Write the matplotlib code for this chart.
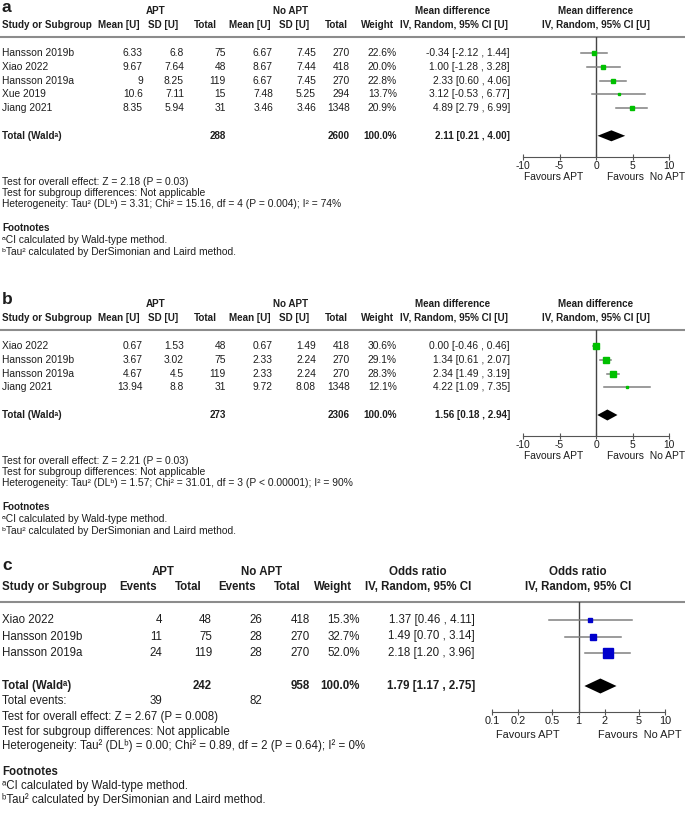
import matplotlib.pyplot as plt

plt.rcParams['font.family'] = ['Liberation Sans', 'DejaVu Sans']
plt.rcParams['axes.unicode_minus'] = False

# ---- panel a : mean difference ----
studies_a = ['Hansson 2019b', 'Xiao 2022', 'Hansson 2019a', 'Xue 2019', 'Jiang 2021']
apt_mean_a = [6.33, 9.67, 9, 10.6, 8.35]
apt_sd_a = [6.8, 7.64, 8.25, 7.11, 5.94]
apt_n_a = [75, 48, 119, 15, 31]
ctl_mean_a = [6.67, 8.67, 6.67, 7.48, 3.46]
ctl_sd_a = [7.45, 7.44, 7.45, 5.25, 3.46]
ctl_n_a = [270, 418, 270, 294, 1348]
weight_a = [22.6, 20.0, 22.8, 13.7, 20.9]
md_a = [-0.34, 1.00, 2.33, 3.12, 4.89]
lo_a = [-2.12, -1.28, 0.60, -0.53, 2.79]
hi_a = [1.44, 3.28, 4.06, 6.77, 6.99]
total_a = [288, 2600]
pooled_a = [2.11, 0.21, 4.00]
tests_a = ['Test for overall effect: Z = 2.18 (P = 0.03)',
           'Test for subgroup differences: Not applicable',
           'Heterogeneity: Tau\u00b2 (DL\u1d47) = 3.31; Chi\u00b2 = 15.16, df = 4 (P = 0.004); I\u00b2 = 74%']

# ---- panel b : mean difference ----
studies_b = ['Xiao 2022', 'Hansson 2019b', 'Hansson 2019a', 'Jiang 2021']
apt_mean_b = [0.67, 3.67, 4.67, 13.94]
apt_sd_b = [1.53, 3.02, 4.5, 8.8]
apt_n_b = [48, 75, 119, 31]
ctl_mean_b = [0.67, 2.33, 2.33, 9.72]
ctl_sd_b = [1.49, 2.24, 2.24, 8.08]
ctl_n_b = [418, 270, 270, 1348]
weight_b = [30.6, 29.1, 28.3, 12.1]
md_b = [0.00, 1.34, 2.34, 4.22]
lo_b = [-0.46, 0.61, 1.49, 1.09]
hi_b = [0.46, 2.07, 3.19, 7.35]
total_b = [273, 2306]
pooled_b = [1.56, 0.18, 2.94]
tests_b = ['Test for overall effect: Z = 2.21 (P = 0.03)',
           'Test for subgroup differences: Not applicable',
           'Heterogeneity: Tau\u00b2 (DL\u1d47) = 1.57; Chi\u00b2 = 31.01, df = 3 (P < 0.00001); I\u00b2 = 90%']

# ---- panel c : odds ratio ----
studies_c = ['Xiao 2022', 'Hansson 2019b', 'Hansson 2019a']
apt_ev_c = [4, 11, 24]
apt_n_c = [48, 75, 119]
ctl_ev_c = [26, 28, 28]
ctl_n_c = [418, 270, 270]
weight_c = [15.3, 32.7, 52.0]
or_c = [1.37, 1.49, 2.18]
lo_c = [0.46, 0.70, 1.20]
hi_c = [4.11, 3.14, 3.96]
total_c = [242, 958]
events_c = [39, 82]
pooled_c = [1.79, 1.17, 2.75]
tests_c = ['Test for overall effect: Z = 2.67 (P = 0.008)',
           'Test for subgroup differences: Not applicable',
           'Heterogeneity: Tau\u00b2 (DL\u1d47) = 0.00; Chi\u00b2 = 0.89, df = 2 (P = 0.64); I\u00b2 = 0%']

footnotes = ['\u1d43CI calculated by Wald-type method.',
             '\u1d47Tau\u00b2 calculated by DerSimonian and Laird method.']

W, H = 685, 825
TXT = '#1e1e1e'
GRID = '#8c8c8c'
AXC = '#555555'

fig = plt.figure(figsize=(W / 100, H / 100), dpi=100)
bg = fig.add_axes([0, 0, 1, 1])
bg.set_xlim(0, W)
bg.set_ylim(H, 0)
bg.axis('off')


def txt(x, y, s, ha='left', bold=False, size=7.4):
    bg.text(x, y, s, ha=ha, va='center', fontsize=size, color=TXT,
            fontweight='bold' if bold else 'normal')


def ci_str(e, l, h):
    return '%.2f [%.2f , %.2f]' % (e, l, h)


def forest_axes(x0, x1, ytop, ybot, row0, step, size):
    ax = fig.add_axes([x0 / W, 1 - ybot / H, (x1 - x0) / W, (ybot - ytop) / H])
    ax.set_ylim((ybot - row0) / step, (ytop - row0) / step)
    ax.patch.set_alpha(0)
    for s in ['top', 'left', 'right']:
        ax.spines[s].set_visible(False)
    ax.spines['bottom'].set_color(AXC)
    ax.tick_params(axis='y', left=False, labelleft=False)
    ax.tick_params(axis='x', which='both', direction='inout', length=4, color=AXC,
                   labelsize=size, pad=1, labelcolor=TXT)
    return ax


def marker_px(w):
    return 0.17 * w + 0.5


def panel_md(letter, yline, studies, m1, s1, n1, m2, s2, n2, wts, md, lo, hi, tot, pooled, tests):
    fs = 7.4
    hs = 7.1
    row0 = yline + 16
    step = 13.8
    txt(2, yline - 30, letter, bold=True, size=12.5)
    txt(156, yline - 26, 'APT', 'center', True, hs)
    txt(291, yline - 26, 'No APT', 'center', True, hs)
    txt(453, yline - 26, 'Mean difference', 'center', True, hs)
    txt(596, yline - 26, 'Mean difference', 'center', True, hs)
    hy = yline - 12
    txt(2, hy, 'Study or Subgroup', 'left', True, hs)
    for x, s in [(119, 'Mean [U]'), (163, 'SD [U]'), (205, 'Total'), (250, 'Mean [U]'),
                 (294, 'SD [U]'), (336, 'Total'), (377, 'Weight'),
                 (454, 'IV, Random, 95% CI [U]'), (596, 'IV, Random, 95% CI [U]')]:
        txt(x, hy, s, 'center', True, hs)
    bg.plot([0, W], [yline, yline], color=GRID, lw=1.5)

    for i, name in enumerate(studies):
        y = row0 + i * step
        txt(2, y, name, size=fs)
        for x, v in [(143, m1[i]), (184, s1[i]), (226, n1[i]), (273, m2[i]),
                     (316, s2[i]), (350, n2[i])]:
            txt(x, y, '%g' % v, 'right', size=fs)
        txt(397, y, '%.1f%%' % wts[i], 'right', size=fs)
        txt(510, y, ci_str(md[i], lo[i], hi[i]), 'right', size=fs)

    ytot = row0 + (len(studies) + 1) * step
    txt(2, ytot, 'Total (Wald\u1d43)', bold=True, size=hs)
    txt(226, ytot, str(tot[0]), 'right', True, hs)
    txt(350, ytot, str(tot[1]), 'right', True, hs)
    txt(397, ytot, '100.0%', 'right', True, hs)
    txt(510, ytot, ci_str(*pooled), 'right', True, hs)

    yax = ytot + 21
    ax = forest_axes(523, 669, yline, yax, row0, step, fs)
    ax.set_xlim(-10, 10)
    ax.set_xticks([-10, -5, 0, 5, 10])
    ax.axvline(0, color='#444444', lw=1)
    for i in range(len(studies)):
        ax.plot([lo[i], hi[i]], [i, i], color='#808080', lw=1.1, clip_on=False)
        ax.plot(md[i], i, 's', color='#00c000', mec='#00c000',
                ms=marker_px(wts[i]) * 0.72, clip_on=False)
    r = len(studies) + 1
    hd = 5.5 / step
    ax.fill([pooled[1], pooled[0], pooled[2], pooled[0]], [r, r - hd, r, r + hd],
            color='black', lw=0)
    txt(554, yax + 20, 'Favours APT', 'center', size=fs)
    txt(646, yax + 20, 'Favours  No APT', 'center', size=fs)

    for k, s in enumerate(tests):
        txt(2, ytot + 46 + 11 * k, s, size=fs)
    txt(2, ytot + 92, 'Footnotes', bold=True, size=hs)
    txt(2, ytot + 104, footnotes[0], size=fs)
    txt(2, ytot + 116, footnotes[1], size=fs)


panel_md('a', 37, studies_a, apt_mean_a, apt_sd_a, apt_n_a, ctl_mean_a, ctl_sd_a, ctl_n_a,
         weight_a, md_a, lo_a, hi_a, total_a, pooled_a, tests_a)
panel_md('b', 330, studies_b, apt_mean_b, apt_sd_b, apt_n_b, ctl_mean_b, ctl_sd_b, ctl_n_b,
         weight_b, md_b, lo_b, hi_b, total_b, pooled_b, tests_b)

# ---- panel c ----
fs = 8.3
yline = 602
row0 = 620
step = 16.5
txt(2, 566, 'c', bold=True, size=12.5)
txt(163, 572, 'APT', 'center', True, fs)
txt(262, 572, 'No APT', 'center', True, fs)
txt(418, 572, 'Odds ratio', 'center', True, fs)
txt(578, 572, 'Odds ratio', 'center', True, fs)
txt(2, 587, 'Study or Subgroup', 'left', True, fs)
for x, s in [(138, 'Events'), (188, 'Total'), (237, 'Events'), (287, 'Total'),
             (333, 'Weight'), (418, 'IV, Random, 95% CI'), (578, 'IV, Random, 95% CI')]:
    txt(x, 587, s, 'center', True, fs)
bg.plot([0, W], [yline, yline], color=GRID, lw=1.5)

for i, name in enumerate(studies_c):
    y = row0 + i * step
    txt(2, y, name, size=fs)
    for x, v in [(162, apt_ev_c[i]), (212, apt_n_c[i]), (262, ctl_ev_c[i]), (310, ctl_n_c[i])]:
        txt(x, y, str(v), 'right', size=fs)
    txt(360, y, '%.1f%%' % weight_c[i], 'right', size=fs)
    txt(475, y, ci_str(or_c[i], lo_c[i], hi_c[i]), 'right', size=fs)

ytot = row0 + (len(studies_c) + 1) * step
txt(2, ytot, 'Total (Wald\u1d43)', bold=True, size=fs)
txt(212, ytot, str(total_c[0]), 'right', True, fs)
txt(310, ytot, str(total_c[1]), 'right', True, fs)
txt(360, ytot, '100.0%', 'right', True, fs)
txt(475, ytot, ci_str(*pooled_c), 'right', True, fs)
txt(2, ytot + 15.5, 'Total events:', size=fs)
txt(162, ytot + 15.5, str(events_c[0]), 'right', size=fs)
txt(262, ytot + 15.5, str(events_c[1]), 'right', size=fs)

yax = 712
ax = forest_axes(492, 665, yline, yax, row0, step, 7.9)
ax.set_xscale('log')
ax.set_xlim(0.1, 10)
ax.set_xticks([0.1, 0.2, 0.5, 1, 2, 5, 10])
ax.set_xticklabels(['0.1', '0.2', '0.5', '1', '2', '5', '10'])
ax.minorticks_off()
ax.axvline(1, color='#444444', lw=1)
for i in range(len(studies_c)):
    ax.plot([lo_c[i], hi_c[i]], [i, i], color='#808080', lw=1.1, clip_on=False)
    ax.plot(or_c[i], i, 's', color='#0000cc', mec='#0000cc',
            ms=marker_px(weight_c[i]) * 0.72, clip_on=False)
r = len(studies_c) + 1
hd = 7.5 / step
ax.fill([pooled_c[1], pooled_c[0], pooled_c[2], pooled_c[0]], [r, r - hd, r, r + hd],
        color='black', lw=0)
txt(528, 735, 'Favours APT', 'center', size=7.9)
txt(640, 735, 'Favours  No APT', 'center', size=7.9)

for k, s in enumerate(tests_c):
    txt(2, ytot + 31 + 14.5 * k, s, size=fs)
txt(2, 772, 'Footnotes', bold=True, size=fs)
txt(2, 786, footnotes[0], size=fs)
txt(2, 800, footnotes[1], size=fs)

fig.savefig('out.png', dpi=100)
